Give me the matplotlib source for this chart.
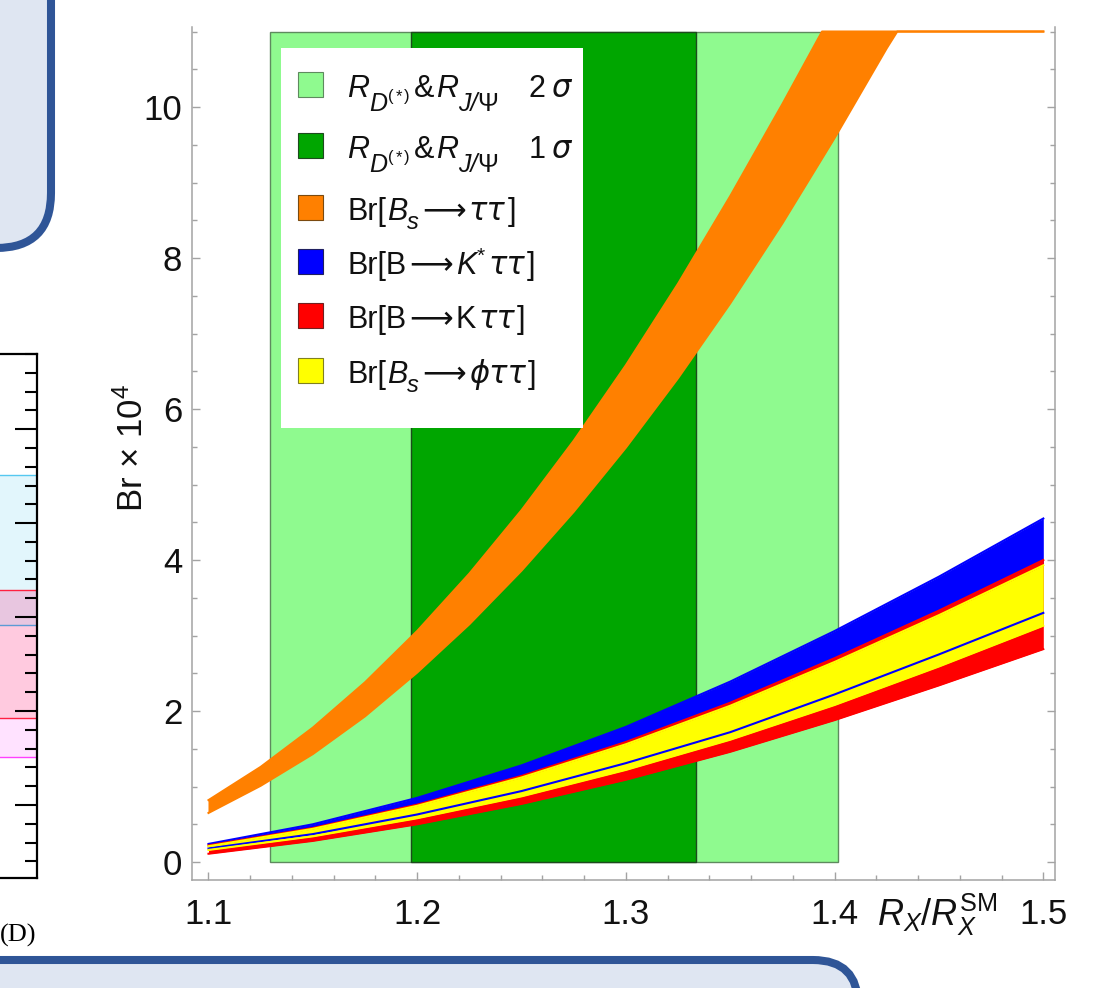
import numpy as np
import matplotlib
matplotlib.use("Agg")
import matplotlib.pyplot as plt
from matplotlib.patches import Rectangle, FancyBboxPatch
from matplotlib.ticker import MultipleLocator
import matplotlib.transforms as mtrans

SANS = ['Liberation Sans', 'DejaVu Sans']
plt.rcParams['font.family'] = SANS
plt.rcParams['mathtext.fontset'] = 'custom'
plt.rcParams['mathtext.rm'] = 'Liberation Sans'
plt.rcParams['mathtext.it'] = 'Liberation Sans:italic'
plt.rcParams['mathtext.bf'] = 'Liberation Sans:bold'

# ---------------- data ----------------
ratio_x = [1.10, 1.15, 1.20, 1.25, 1.30, 1.35, 1.40, 1.45, 1.50]
kstar_hi = [0.24, 0.50, 0.85, 1.28, 1.79, 2.39, 3.06, 3.78, 4.55]
kstar_lo = [0.18, 0.37, 0.63, 0.94, 1.31, 1.72, 2.22, 2.75, 3.30]
k_hi = [0.22, 0.45, 0.76, 1.14, 1.59, 2.11, 2.70, 3.33, 4.00]
k_lo = [0.11, 0.28, 0.50, 0.77, 1.09, 1.46, 1.88, 2.34, 2.82]
phi_hi = [0.21, 0.44, 0.745, 1.12, 1.56, 2.07, 2.65, 3.27, 3.93]
phi_lo = [0.16, 0.34, 0.58, 0.87, 1.22, 1.62, 2.08, 2.59, 3.13]

bstau_hi_x = [1.100, 1.125, 1.150, 1.175, 1.200, 1.225, 1.250, 1.275, 1.300,
              1.325, 1.350, 1.375, 1.394, 1.500]
bstau_hi = [0.82, 1.26, 1.78, 2.38, 3.06, 3.82, 4.66, 5.58, 6.58,
            7.66, 8.82, 10.04, 11.0, 11.0]
bstau_lo_x = [1.100, 1.125, 1.150, 1.175, 1.200, 1.225, 1.250, 1.275, 1.300,
              1.325, 1.350, 1.375, 1.400, 1.425, 1.430, 1.500]
bstau_lo = [0.65, 1.01, 1.43, 1.93, 2.51, 3.15, 3.86, 4.64, 5.49,
            6.41, 7.40, 8.46, 9.59, 10.78, 11.0, 11.0]

band_2sigma = [1.1295, 1.4015]
band_1sigma = [1.197, 1.3335]
band_height = 11.0

xtick_vals = [1.1, 1.2, 1.3, 1.4, 1.5]
xtick_labels = ['1.1', '1.2', '1.3', '1.4', '1.5']
ytick_vals = [0, 2, 4, 6, 8, 10]

# legend labels, as (text, size, style, baseline shift px, gap after px)
ARROW = '\u27F6'
TAU2 = '\u03C4\u03C4'
GREEK = ('\u03C3', TAU2, '\u03D5' + TAU2)
FS = 22
legend_labels = [
    [('R', FS, 'italic', 0, 0), ('D', 18, 'italic', 14, 1), ('(', 12, 'normal', 4, 2),
     ('*', 12, 'normal', 4, 2), (')', 12, 'normal', 4, 4),
     ('&', FS, 'normal', 0, 2), ('R', FS, 'italic', 0, 0), ('J/', 18, 'italic', 14, 0),
     ('\u03A8', 18, 'normal', 14, 30), ('2', FS, 'normal', 0, 6), ('\u03C3', FS, 'italic', 0, 0)],
    [('R', FS, 'italic', 0, 0), ('D', 18, 'italic', 14, 1), ('(', 12, 'normal', 4, 2),
     ('*', 12, 'normal', 4, 2), (')', 12, 'normal', 4, 4),
     ('&', FS, 'normal', 0, 2), ('R', FS, 'italic', 0, 0), ('J/', 18, 'italic', 14, 0),
     ('\u03A8', 18, 'normal', 14, 30), ('1', FS, 'normal', 0, 6), ('\u03C3', FS, 'italic', 0, 0)],
    [('Br[', FS, 'normal', 0, 1), ('B', FS, 'italic', 0, 0), ('s', 17, 'italic', 9, 3),
     (ARROW, FS, 'normal', 0, 3), (TAU2, FS, 'italic', 0, 2), (']', FS, 'normal', 0, 0)],
    [('Br[B', FS, 'normal', 0, 3), (ARROW, FS, 'normal', 0, 3), ('K', FS, 'italic', 0, 0),
     ('*', 15, 'normal', -12, 4), (TAU2, FS, 'italic', 0, 2), (']', FS, 'normal', 0, 0)],
    [('Br[B', FS, 'normal', 0, 3), (ARROW, FS, 'normal', 0, 3), ('K', FS, 'normal', 0, 2),
     (TAU2, FS, 'italic', 0, 2), (']', FS, 'normal', 0, 0)],
    [('Br[', FS, 'normal', 0, 1), ('B', FS, 'italic', 0, 0), ('s', 17, 'italic', 9, 3),
     (ARROW, FS, 'normal', 0, 3), ('\u03D5' + TAU2, FS, 'italic', 0, 2), (']', FS, 'normal', 0, 0)],
]

# left fragment (another chart, partly visible)
frag_levels = [3.51, 2.287, 1.915, 0.926, 0.511]

# ---------------- colours ----------------
C_LG = '#8FFA8F'
C_DG = '#00A600'
C_OR = '#FF8000'
C_BL = '#0000FF'
C_RD = '#FF0000'
C_YE = '#FFFF00'
TXT = '#111111'

W, H = 1112, 988
fig = plt.figure(figsize=(W / 100, H / 100), dpi=100)
pix = mtrans.Affine2D().scale(1.0 / W, 1.0 / H) + fig.transFigure

# slide decoration boxes
top_box = FancyBboxPatch((-150, H - 248), 201, 400,
                         boxstyle='round,pad=0,rounding_size=55',
                         transform=pix, fc='#DFE6F2', ec='#2F5597', lw=5.8, zorder=0)
fig.add_artist(top_box)
bot_box = FancyBboxPatch((-150, -150), 1008, 150 + (H - 960),
                         boxstyle='round,pad=0,rounding_size=45',
                         transform=pix, fc='#DFE6F2', ec='#2F5597', lw=5.8, zorder=0)
fig.add_artist(bot_box)

# ---------------- left fragment axes ----------------
ax2 = fig.add_axes([-200 / W, (H - 878) / H, 237 / W, (878 - 354) / H])
ax2.set_xlim(0, 1)
ax2.set_ylim(-0.777, 4.80)
ax2.axhspan(frag_levels[1], frag_levels[0], color='#E2F6FC', lw=0)
ax2.axhspan(frag_levels[2], frag_levels[1], color='#E8C6E0', lw=0)
ax2.axhspan(frag_levels[3], frag_levels[2], color='#FFCADF', lw=0)
ax2.axhspan(frag_levels[4], frag_levels[3], color='#FFE2FF', lw=0)
ax2.axhline(frag_levels[0], color='#55C8F0', lw=1)
ax2.axhline(frag_levels[1], color='#FF2040', lw=1)
ax2.axhline(frag_levels[2], color='#5B9BD5', lw=1)
ax2.axhline(frag_levels[3], color='#FF2040', lw=1)
ax2.axhline(frag_levels[4], color='#FF40FF', lw=1)
ax2.spines['left'].set_visible(False)
for s in ['top', 'right', 'bottom']:
    ax2.spines[s].set_color('black')
    ax2.spines[s].set_linewidth(1.6)
ax2.set_xticks([])
ax2.yaxis.set_ticks_position('right')
ax2.yaxis.set_major_locator(MultipleLocator(1))
ax2.yaxis.set_minor_locator(MultipleLocator(0.2))
ax2.tick_params(axis='y', which='major', direction='in', length=16, width=1.5,
                labelright=False, labelleft=False)
ax2.tick_params(axis='y', which='minor', direction='in', length=8.5, width=1.5)
fig.text(0.0, 1 - 935 / H, '(D)', family='Liberation Serif', fontsize=19,
         ha='left', va='center')

# ---------------- main axes ----------------
ax = fig.add_axes([192 / W, (H - 880) / H, (1055 - 192) / W, (880 - 27) / H])
ax.set_xlim(1.0921, 1.5056)
ax.set_ylim(-0.238, 11.06)

ax.add_patch(Rectangle((band_2sigma[0], 0), band_2sigma[1] - band_2sigma[0], band_height,
                       fc=C_LG, ec='#5E8A5E', lw=1.0, zorder=1))
ax.add_patch(Rectangle((band_1sigma[0], 0), band_1sigma[1] - band_1sigma[0], band_height,
                       fc=C_DG, ec='#1E4A1E', lw=1.0, zorder=1.1))

# fills
ax.fill(np.r_[bstau_hi_x, bstau_lo_x[::-1]], np.r_[bstau_hi, bstau_lo[::-1]],
        color=C_OR, lw=0, zorder=3)
ax.fill_between(ratio_x, kstar_lo, kstar_hi, color=C_BL, lw=0, zorder=3.1)
ax.fill_between(ratio_x, k_lo, k_hi, color=C_RD, lw=0, zorder=3.2)
ax.fill_between(ratio_x, phi_lo, phi_hi, color=C_YE, lw=0, zorder=3.3)
# boundary curves
lw = 1.5
ax.plot(bstau_hi_x, bstau_hi, color=C_OR, lw=lw, zorder=4)
ax.plot(bstau_lo_x, bstau_lo, color=C_OR, lw=lw, zorder=4)
ax.plot(ratio_x, kstar_hi, color=C_BL, lw=lw, zorder=4.1)
ax.plot(ratio_x, kstar_lo, color=C_BL, lw=lw, zorder=4.1)
ax.plot(ratio_x, k_hi, color=C_RD, lw=lw, zorder=4.2)
ax.plot(ratio_x, k_lo, color=C_RD, lw=lw, zorder=4.2)
ax.plot(ratio_x, phi_hi, color=C_YE, lw=lw, zorder=4.3)
ax.plot(ratio_x, phi_lo, color=C_YE, lw=lw, zorder=4.3)

# frame / ticks
ax.spines['top'].set_visible(False)
for s in ['left', 'right', 'bottom']:
    ax.spines[s].set_color('#A3A3A3')
    ax.spines[s].set_linewidth(1.1)
ax.set_xticks(xtick_vals)
ax.set_xticklabels(xtick_labels)
ax.set_yticks(ytick_vals)
ax.xaxis.set_minor_locator(MultipleLocator(0.02))
ax.yaxis.set_minor_locator(MultipleLocator(0.5))
ax.tick_params(which='both', direction='in', color='#A3A3A3', width=1.0,
               right=True, top=False, labelsize=25, labelcolor=TXT)
ax.tick_params(which='major', length=5.5)
ax.tick_params(which='minor', length=3.5)
ax.tick_params(axis='x', pad=13)
ax.tick_params(axis='y', pad=7)

fig.text(937 / W, 1 - 926 / H, r'$R_X/R_X^{\mathrm{SM}}$', fontsize=26,
         ha='center', va='baseline', color=TXT)
fig.text(133 / W, 1 - 448 / H, r'Br × 10$^4$', rotation=90, fontsize=25,
         ha='center', va='center', color=TXT)

# legend (drawn in pixel coordinates of the figure)
leg_bg = Rectangle((281, H - 428), 302, 380, transform=pix, fc='white', ec='none', zorder=10)
fig.add_artist(leg_bg)
clip = mtrans.TransformedBbox(mtrans.Bbox.from_extents(281, H - 428, 583, H - 48), pix)
renderer = fig.canvas.get_renderer()
swatch_colors = [C_LG, C_DG, C_OR, C_BL, C_RD, C_YE]
swatch_edges = ['#5E8A5E', '#1E4A1E', '#7A4A10', '#202060', '#702020', '#808020']
row_bottoms = [97, 158, 220, 274, 328, 383]
for col, ecol, yb, pieces in zip(swatch_colors, swatch_edges, row_bottoms, legend_labels):
    fig.add_artist(Rectangle((298, H - yb), 25, 25, transform=pix, fc=col, ec=ecol,
                             lw=0.8, zorder=11))
    x = 347.0
    for txt, size, style, dy, gap in pieces:
        if txt == ARROW or txt in GREEK:
            fam = ['DejaVu Sans']
        else:
            fam = SANS
        t = fig.text(x / W, 1 - (yb + dy) / H, txt, fontsize=size, style=style,
                     family=fam, ha='left', va='baseline', color=TXT, zorder=12)
        t.set_clip_box(clip)
        x += t.get_window_extent(renderer).width + gap

fig.savefig('out.png', dpi=100)
